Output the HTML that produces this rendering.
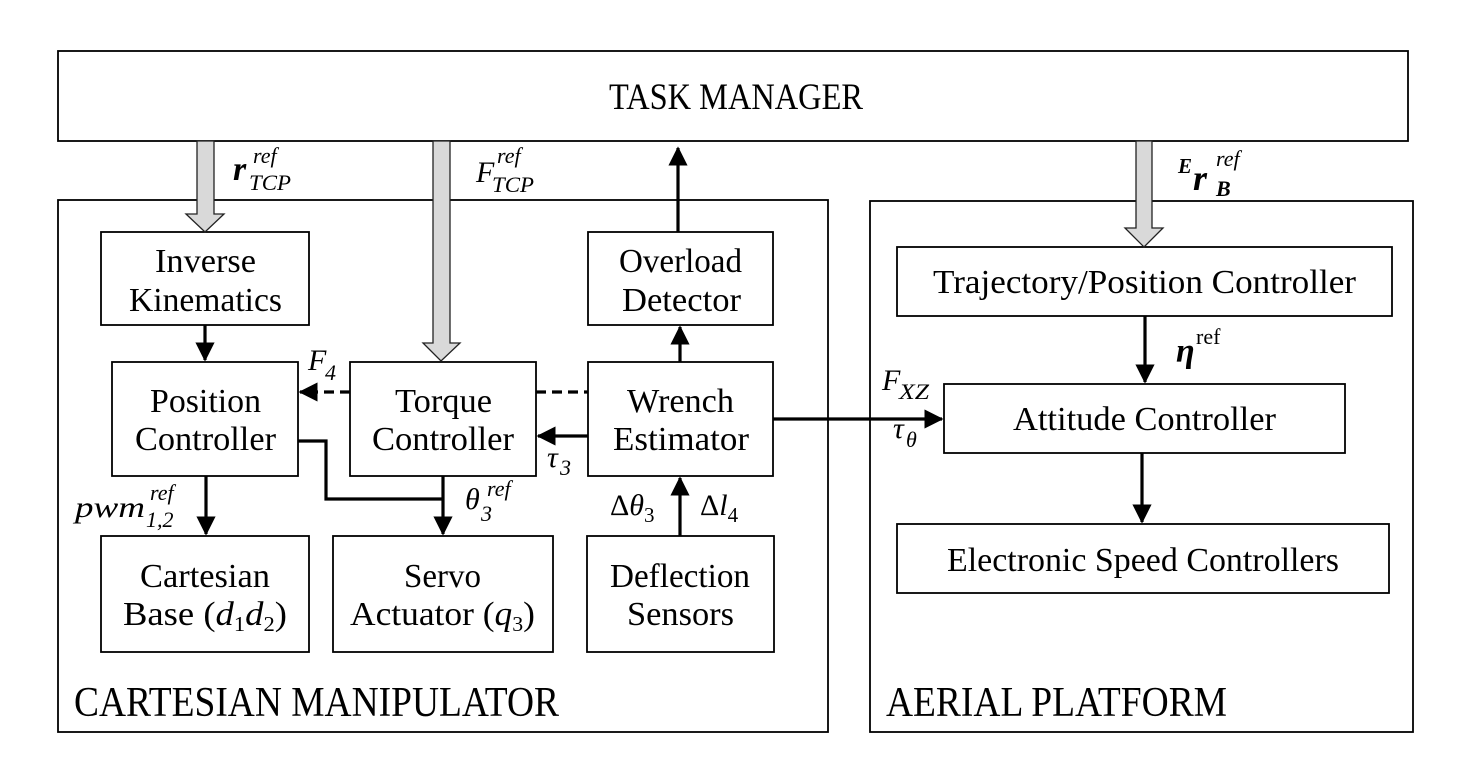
<!DOCTYPE html>
<html><head><meta charset="utf-8"><style>
html,body{margin:0;padding:0;background:#fff}
svg{display:block}
text{font-family:"Liberation Serif",serif;fill:#000}
.b{font-size:34px}
.m{font-style:italic;font-size:30px}
.s{font-style:italic;font-size:22px}
</style></head><body>
<svg width="1464" height="764" viewBox="0 0 1464 764" xmlns="http://www.w3.org/2000/svg">
<defs>
<marker id="ah" markerWidth="6" markerHeight="6" refX="5.5" refY="3" orient="auto" markerUnits="strokeWidth"><path d="M0,0 L6,3 L0,6 Z" fill="#000"/></marker>
</defs>
<g fill="none" stroke="#000" stroke-width="1.8">
<rect x="58" y="51" width="1350" height="90"/>
<rect x="58" y="200" width="770" height="532"/>
<rect x="870" y="201" width="543" height="531"/>
<rect x="101" y="232" width="208" height="93"/>
<rect x="588" y="232" width="185" height="93"/>
<rect x="112" y="362" width="186" height="114"/>
<rect x="350" y="362" width="186" height="114"/>
<rect x="588" y="362" width="185" height="114"/>
<rect x="101" y="536" width="208" height="116"/>
<rect x="333" y="536" width="220" height="116"/>
<rect x="587" y="536" width="187" height="116"/>
<rect x="897" y="247" width="495" height="69"/>
<rect x="944" y="384" width="401" height="69"/>
<rect x="897" y="524" width="492" height="69"/>
</g>
<g fill="#d9d9d9" stroke="#222" stroke-width="1.3">
<path d="M197,141 V214 H186 L205,232 L224,214 H214 V141 Z"/>
<path d="M433,141 V343 H423 L441,361 L460,343 H450 V141 Z"/>
<path d="M1136,141 V228 H1125 L1144,247 L1163,228 H1152 V141 Z"/>
</g>
<g fill="none" stroke="#000" stroke-width="3.2">
<line x1="678" y1="232" x2="678" y2="148" marker-end="url(#ah)"/>
<line x1="680" y1="362" x2="680" y2="327" marker-end="url(#ah)"/>
<line x1="205" y1="325" x2="205" y2="360" marker-end="url(#ah)"/>
<line x1="350" y1="392" x2="300" y2="392" stroke-dasharray="10,6" marker-end="url(#ah)"/>
<line x1="536" y1="392" x2="588" y2="392" stroke-dasharray="10,6"/>
<line x1="588" y1="436" x2="538" y2="436" marker-end="url(#ah)"/>
<line x1="773" y1="419" x2="942" y2="419" marker-end="url(#ah)"/>
<polyline points="298,441 326,441 326,499 443,499"/>
<line x1="443" y1="476" x2="443" y2="534" marker-end="url(#ah)"/>
<line x1="206" y1="476" x2="206" y2="534" marker-end="url(#ah)"/>
<line x1="680" y1="536" x2="680" y2="478" marker-end="url(#ah)"/>
<line x1="1145" y1="316" x2="1145" y2="382" marker-end="url(#ah)"/>
<line x1="1142" y1="453" x2="1142" y2="522" marker-end="url(#ah)"/>
</g>
<text x="609" y="109" font-size="37" textLength="254" lengthAdjust="spacingAndGlyphs">TASK MANAGER</text>
<text class="b" x="155" y="272" textLength="101" lengthAdjust="spacingAndGlyphs">Inverse</text>
<text class="b" x="129" y="311" textLength="153" lengthAdjust="spacingAndGlyphs">Kinematics</text>
<text class="b" x="619" y="272" textLength="123" lengthAdjust="spacingAndGlyphs">Overload</text>
<text class="b" x="622" y="311" textLength="119" lengthAdjust="spacingAndGlyphs">Detector</text>
<text class="b" x="150" y="412" textLength="111" lengthAdjust="spacingAndGlyphs">Position</text>
<text class="b" x="135" y="450" textLength="141" lengthAdjust="spacingAndGlyphs">Controller</text>
<text class="b" x="395" y="412" textLength="97" lengthAdjust="spacingAndGlyphs">Torque</text>
<text class="b" x="372" y="450" textLength="142" lengthAdjust="spacingAndGlyphs">Controller</text>
<text class="b" x="627" y="412" textLength="107" lengthAdjust="spacingAndGlyphs">Wrench</text>
<text class="b" x="613" y="450" textLength="136" lengthAdjust="spacingAndGlyphs">Estimator</text>
<text class="b" x="140" y="587" textLength="130" lengthAdjust="spacingAndGlyphs">Cartesian</text>
<text class="b" x="123" y="625" textLength="164" lengthAdjust="spacingAndGlyphs">Base (<tspan font-style="italic">d</tspan><tspan font-size="21" dy="6">1</tspan><tspan font-style="italic" dy="-6">d</tspan><tspan font-size="21" dy="6">2</tspan><tspan dy="-6">)</tspan></text>
<text class="b" x="404" y="587" textLength="77" lengthAdjust="spacingAndGlyphs">Servo</text>
<text class="b" x="350" y="625" textLength="185" lengthAdjust="spacingAndGlyphs">Actuator (<tspan font-style="italic">q</tspan><tspan font-size="21" dy="6">3</tspan><tspan dy="-6">)</tspan></text>
<text class="b" x="610" y="587" textLength="140" lengthAdjust="spacingAndGlyphs">Deflection</text>
<text class="b" x="627" y="625" textLength="107" lengthAdjust="spacingAndGlyphs">Sensors</text>
<text class="b" x="933" y="293" textLength="423" lengthAdjust="spacingAndGlyphs">Trajectory/Position Controller</text>
<text class="b" x="1013" y="430" textLength="263" lengthAdjust="spacingAndGlyphs">Attitude Controller</text>
<text class="b" x="947" y="571" textLength="392" lengthAdjust="spacingAndGlyphs">Electronic Speed Controllers</text>
<text x="74" y="716" font-size="42" textLength="485" lengthAdjust="spacingAndGlyphs">CARTESIAN MANIPULATOR</text>
<text x="886" y="716" font-size="42" textLength="341" lengthAdjust="spacingAndGlyphs">AERIAL PLATFORM</text>
<text x="233" y="180" font-size="34" font-weight="bold" font-style="italic">r</text>
<text class="s" x="253" y="163">ref</text>
<text class="s" x="249" y="190" textLength="42" lengthAdjust="spacingAndGlyphs">TCP</text>
<text class="m" x="476" y="182">F</text>
<text class="s" x="497" y="163">ref</text>
<text class="s" x="492" y="192" textLength="42" lengthAdjust="spacingAndGlyphs">TCP</text>
<text x="1178" y="173" font-size="21" font-weight="bold" font-style="italic">E</text>
<text x="1193" y="190" font-size="36" font-weight="bold" font-style="italic">r</text>
<text class="s" x="1216" y="166">ref</text>
<text x="1216" y="196" font-size="22" font-weight="bold" font-style="italic">B</text>
<text x="1176" y="362" font-size="34" font-weight="bold" font-style="italic">η</text>
<text x="1196" y="344" font-size="22">ref</text>
<text class="m" x="308" y="370">F</text><text class="s" x="325" y="380">4</text>
<text class="m" x="882" y="390">F</text><text class="s" x="899" y="399" textLength="30" lengthAdjust="spacingAndGlyphs">XZ</text>
<text class="m" x="893" y="438">τ</text><text class="s" x="906" y="447">θ</text>
<text class="m" x="547" y="467">τ</text><text class="s" x="560" y="475">3</text>
<text class="m" x="465" y="509">θ</text><text class="s" x="481" y="521">3</text><text class="s" x="487" y="496">ref</text>
<text class="m" x="75" y="517" textLength="70" lengthAdjust="spacingAndGlyphs">pwm</text><text class="s" x="146" y="527">1,2</text><text class="s" x="150" y="500">ref</text>
<text x="610" y="515" font-size="30">Δ<tspan font-style="italic">θ</tspan><tspan font-size="21" dy="7">3</tspan></text>
<text x="700" y="515" font-size="30">Δ<tspan font-style="italic">l</tspan><tspan font-size="21" dy="7">4</tspan></text>
</svg>
</body></html>
